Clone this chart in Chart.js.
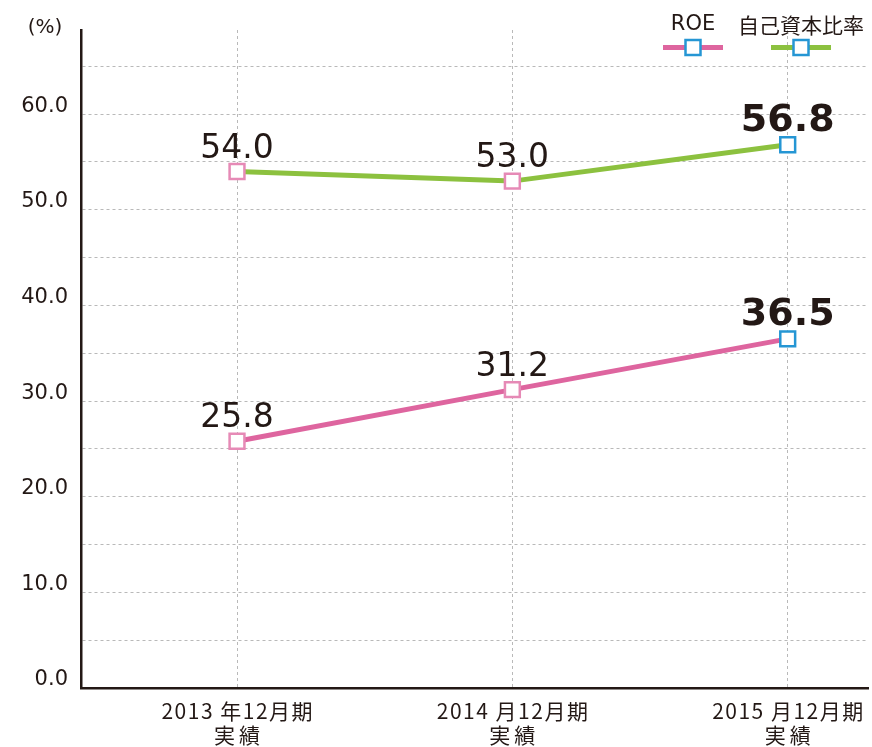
<!DOCTYPE html>
<html>
<head>
<meta charset="utf-8">
<script src="https://cdn.jsdelivr.net/npm/chart.js@4"></script>
<style>
  html, body { margin: 0; padding: 0; background: #fff; }
</style>
</head>
<body>
<canvas id="c" width="872" height="747"></canvas>
<script>
// ---- data ----
const categories = [
  ['2013 年12月期', '実績'],
  ['2014 月12月期', '実績'],
  ['2015 月12月期', '実績']
];
const roeValues = [25.8, 31.2, 36.5];
const equityRatioValues = [54.0, 53.0, 56.8];
const seriesNames = ['ROE', '自己資本比率'];
const yTickValues = [0, 5, 10, 15, 20, 25, 30, 35, 40, 45, 50, 55, 60, 65];
const unitLabel = '(%)';

// ---- styles ----
const INK = '#231815';
const PINK = '#de659f';
const PINK_MARK = '#e68ab6';
const GREEN = '#8cc13f';
const BLUE = '#2596d4';
const GRID = '#b9b9b9';
const NUM_FONT = '"DejaVu Sans", "Liberation Sans", sans-serif';
const CJK_FONT = '"Noto Sans CJK JP", "Noto Sans", sans-serif';

const toPoints = arr => arr.map((v, i) => ({ x: i, y: v }));
const markColors = n => Array.from({ length: n }, (_, i) => i === n - 1 ? BLUE : PINK_MARK);

function spacedText(ctx, text, x, y, spacing) {
  if ('letterSpacing' in ctx) {
    ctx.letterSpacing = spacing + 'px';
    ctx.fillText(text, x + spacing / 2, y);
    ctx.letterSpacing = '0px';
  } else {
    ctx.fillText(text, x, y);
  }
}

const valueLabels = {
  id: 'valueLabels',
  afterDatasetsDraw(chart) {
    const ctx = chart.ctx;
    chart.data.datasets.forEach((ds, di) => {
      const meta = chart.getDatasetMeta(di);
      meta.data.forEach((pt, i) => {
        const last = i === meta.data.length - 1;
        ctx.save();
        ctx.fillStyle = INK;
        ctx.textAlign = 'center';
        ctx.textBaseline = 'alphabetic';
        ctx.font = last ? 'bold 38px ' + NUM_FONT : '33px ' + NUM_FONT;
        ctx.fillText(ds.data[i].y.toFixed(1), pt.x, pt.y - 14);
        ctx.restore();
      });
    });
  }
};

const categoryLabels = {
  id: 'categoryLabels',
  afterDraw(chart) {
    const ctx = chart.ctx;
    const xs = chart.scales.x;
    ctx.save();
    ctx.fillStyle = INK;
    ctx.textAlign = 'center';
    ctx.textBaseline = 'middle';
    ctx.font = '21px ' + CJK_FONT;
    categories.forEach((lines, i) => {
      const px = xs.getPixelForValue(i);
      spacedText(ctx, lines[0], px, 711, 1.5);
      spacedText(ctx, lines[1], px, 735, 4);
    });
    ctx.restore();
  }
};

const customLegend = {
  id: 'customLegend',
  afterDraw(chart) {
    const ctx = chart.ctx;
    const centers = [693, 801];
    chart.data.datasets.forEach((ds, di) => {
      const cx = centers[di];
      ctx.save();
      ctx.fillStyle = INK;
      ctx.textAlign = 'center';
      ctx.textBaseline = 'middle';
      ctx.font = di === 0 ? '21px ' + NUM_FONT : '21px ' + CJK_FONT;
      ctx.fillText(ds.label, cx, 25);
      ctx.strokeStyle = ds.borderColor;
      ctx.lineWidth = 5;
      ctx.beginPath();
      ctx.moveTo(cx - 30, 47.5);
      ctx.lineTo(cx + 30, 47.5);
      ctx.stroke();
      ctx.fillStyle = '#fff';
      ctx.strokeStyle = BLUE;
      ctx.lineWidth = 2.5;
      ctx.fillRect(cx - 7.5, 40, 15, 15);
      ctx.strokeRect(cx - 7.5, 40, 15, 15);
      ctx.restore();
    });
    ctx.save();
    ctx.fillStyle = INK;
    ctx.font = '20px ' + NUM_FONT;
    ctx.textAlign = 'center';
    ctx.textBaseline = 'middle';
    ctx.fillText(unitLabel, 45, 28);
    ctx.restore();
  }
};

new Chart(document.getElementById('c'), {
  type: 'line',
  data: {
    datasets: [
      {
        label: seriesNames[0],
        data: toPoints(roeValues),
        borderColor: PINK,
        borderWidth: 5,
        pointStyle: 'rect',
        pointRadius: 10.5,
        pointHoverRadius: 10.5,
        pointBorderWidth: 2.5,
        pointBackgroundColor: '#fff',
        pointBorderColor: markColors(roeValues.length),
        tension: 0
      },
      {
        label: seriesNames[1],
        data: toPoints(equityRatioValues),
        borderColor: GREEN,
        borderWidth: 5,
        pointStyle: 'rect',
        pointRadius: 10.5,
        pointHoverRadius: 10.5,
        pointBorderWidth: 2.5,
        pointBackgroundColor: '#fff',
        pointBorderColor: markColors(equityRatioValues.length),
        tension: 0
      }
    ]
  },
  options: {
    responsive: false,
    animation: false,
    events: [],
    layout: { autoPadding: false, padding: { top: 30, right: 4, left: 0, bottom: 0 } },
    plugins: { legend: { display: false }, tooltip: { enabled: false } },
    scales: {
      x: {
        type: 'linear',
        min: -0.5666,
        max: 2.2916,
        afterBuildTicks: s => { s.ticks = categories.map((_, i) => ({ value: i })); },
        afterFit: s => { s.height = 59; },
        ticks: { display: false },
        grid: { color: GRID, lineWidth: 1, drawTicks: false },
        border: { display: true, color: INK, width: 2.5, dash: [3, 3] }
      },
      y: {
        type: 'linear',
        min: 0,
        max: 68.8,
        afterBuildTicks: s => { s.ticks = yTickValues.map(v => ({ value: v })); },
        afterFit: s => { s.width = 81; s.paddingTop = 0; s.paddingBottom = 0; },
        ticks: {
          callback: v => (v % 10 === 0 ? v.toFixed(1) : ''),
          color: INK,
          font: { family: NUM_FONT, size: 21 },
          padding: 13,
          labelOffset: -8,
          autoSkip: false
        },
        grid: { color: GRID, lineWidth: 1, drawTicks: false },
        border: { display: true, color: INK, width: 2.5, dash: [3, 3] }
      }
    }
  },
  plugins: [valueLabels, categoryLabels, customLegend]
});
</script>
</body>
</html>
